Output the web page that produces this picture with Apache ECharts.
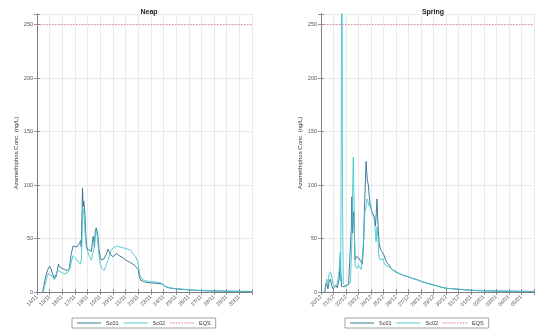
<!DOCTYPE html>
<html>
<head>
<meta charset="utf-8">
<script src="https://cdn.jsdelivr.net/npm/echarts@6/dist/echarts.min.js"></script>
<style>
  html, body { margin: 0; padding: 0; background: #fff; }
  #chart { width: 536px; height: 333px; }
</style>
</head>
<body>
<div id="chart"></div>
<script>
// Time is in days from the first labelled date of each panel.
const neapTicks = ['14/11','15/11','16/11','17/11','18/11','19/11','20/11','21/11','22/11','23/11','24/11','25/11','26/11','27/11','28/11','29/11','30/11'];
const springTicks = ['20/12','21/12','22/12','23/12','24/12','25/12','26/12','27/12','28/12','29/12','30/12','31/12','01/01','02/01','03/01','04/01','05/01'];

const eqsLevel = 250;

// Neap, scenario Sc01
const neapSc01T = [0.45,0.55,0.7,0.85,1.0,1.1,1.2,1.3,1.4,1.45,1.5,1.6,1.7,1.75,1.85,2.0,2.2,2.4,2.55,2.7,2.85,3.0,3.15,3.3,3.38,3.45,3.5,3.55,3.6,3.65,3.7,3.75,3.8,3.85,3.92,4.0,4.15,4.3,4.4,4.45,4.55,4.6,4.68,4.75,4.8,4.9,5.0,5.1,5.3,5.5,5.6,5.7,5.8,6.0,6.3,6.5,6.8,7.0,7.3,7.6,7.8,8.0,8.1,8.2,8.4,8.6,9.0,9.5,9.9,10.1,10.4,10.8,11.2,11.6,12.0,12.5,13.0,13.5,14.0,15.0,16.0,17.0];
const neapSc01V = [0,6,15,21,24,22,18,15,12,16,14,20,26,24,23,22,21,20,22,35,43,44,42,41,46,48,42,70,97,80,85,86,72,55,43,40,39,38,49,52,42,56,60,59,55,40,32,30,31,36,40,38,35,33,36,34,32,30,28,26,24,21,14,11,10,9,8.5,8,7.5,5.5,4,3.2,2.8,2.4,2.0,1.6,1.3,1.1,0.9,0.7,0.6,0.5];

// Neap, scenario Sc02
const neapSc02T = [0.5,0.6,0.75,0.9,1.05,1.2,1.35,1.45,1.55,1.65,1.8,2.0,2.2,2.4,2.6,2.75,2.85,3.0,3.2,3.45,3.52,3.58,3.63,3.68,3.75,3.8,3.9,4.0,4.15,4.3,4.4,4.5,4.6,4.7,4.78,4.9,5.0,5.13,5.3,5.5,5.7,5.85,6.0,6.3,6.6,6.9,7.2,7.4,7.6,7.8,7.95,8.05,8.15,8.3,8.5,8.8,9.2,9.6,9.9,10.1,10.4,10.8,11.2,11.6,12.0,12.5,13.0,13.5,14.0,15.0,16.0,17.0];
const neapSc02V = [0,5,12,17,18,15,12,14,17,20,19,18,17,18,22,30,34,32,29,26,32,60,78,74,68,55,42,38,33,30,36,40,52,58,50,35,26,22,20,26,33,39,41,43,42,41,40,39,36,33,29,22,15,12,11,10,9.5,9,8,5.5,4.2,3.4,2.9,2.5,2.1,1.7,1.4,1.2,1.0,0.8,0.6,0.5];

// Spring, scenario Sc01
const springSc01T = [0.3,0.35,0.45,0.55,0.65,0.75,0.85,0.95,1.05,1.2,1.3,1.45,1.53,1.58,1.65,1.75,1.9,2.05,2.2,2.35,2.42,2.47,2.52,2.57,2.62,2.68,2.72,2.8,2.9,3.0,3.1,3.2,3.3,3.38,3.45,3.52,3.6,3.65,3.7,3.78,3.85,3.95,4.05,4.15,4.25,4.35,4.42,4.47,4.52,4.57,4.65,4.75,4.85,4.95,5.05,5.15,5.3,5.45,5.6,5.8,6.0,6.3,6.6,6.9,7.2,7.5,7.8,8.1,8.4,8.7,9.0,9.3,9.6,10.0,10.5,11.0,11.5,12.0,12.5,13.0,14.0,15.0,16.0,17.0];
const springSc01V = [0,4,8,3,10,12,6,3,3,6,4,12,30,18,5,4,5,6,7,8,60,89,55,72,75,50,30,33,34,32,30,28,26,40,70,95,122,112,105,100,90,80,76,73,70,62,75,87,70,60,45,40,38,39,34,30,27,25,22,20,18.5,17,15.5,14.5,13,12,11,9.5,8.5,7.5,6.5,5.5,4.5,3.5,3,2.5,2,1.6,1.3,1.1,0.9,0.7,0.6,0.5];

// Spring, scenario Sc02
const springSc02T = [0.3,0.35,0.45,0.55,0.65,0.75,0.85,0.95,1.05,1.15,1.3,1.45,1.53,1.57,1.62,1.67,1.72,1.78,1.9,2.05,2.2,2.35,2.45,2.52,2.58,2.63,2.68,2.73,2.85,3.0,3.1,3.2,3.34,3.42,3.5,3.6,3.68,3.75,3.85,3.95,4.05,4.15,4.25,4.35,4.4,4.47,4.55,4.62,4.72,4.85,4.95,5.05,5.15,5.33,5.5,5.7,5.86,6.0,6.3,6.6,6.9,7.2,7.5,7.8,8.1,8.4,8.7,9.0,9.3,9.6,10.0,10.5,11.0,11.5,12.0,12.5,13.0,14.0,15.0,16.0,17.0];
const springSc02V = [0,6,12,8,17,19,15,8,5,4,8,20,37,10,150,420,80,8,6,7,7,9,40,90,126,90,45,25,22,25,24,21,20,50,75,80,87,85,80,82,75,72,68,55,47,61,50,33,30,30,31,27,25,24,23,21,20,18.5,17,15.5,14.5,13,12,11,9.5,8.5,7.5,6.5,5.5,4.5,3.6,3.1,2.6,2.1,1.7,1.4,1.2,1.0,0.8,0.6,0.5];

const colSc01 = '#2c6d8a';
const colSc02 = '#45c4d0';
const colEqs = '#e0707a';
const axisCol = '#7a7a7a';
const gridCol = '#e4e4e4';
const fontFam = '"Liberation Sans", Arial, sans-serif';

// Legend keys: a thin solid bar and a dotted bar
const solidKey = 'path://M0,0H26V1H0Z';
const dottedKey = 'path://' + Array.from({ length: 9 }, (_, i) => `M${i * 3},0h1.5v1h-1.5Z`).join('');

function pairs(t, v) { return t.map((x, i) => [x, v[i]]); }

function xAxes(gridIndex, labels) {
  const bottom = {
    type: 'value', gridIndex, position: 'bottom', min: 0, max: 17, interval: 1,
    axisLine: { show: true, lineStyle: { color: axisCol, width: 0.8 } },
    axisTick: { show: true, inside: true, length: 3, lineStyle: { color: axisCol, width: 0.8 } },
    splitLine: { show: true, lineStyle: { color: gridCol, width: 0.8 } },
    axisLabel: {
      rotate: 45, fontSize: 5.5, color: '#555', fontFamily: fontFam, margin: 4,
      formatter: v => (labels[v] !== undefined ? labels[v] : '')
    }
  };
  const top = {
    type: 'value', gridIndex, position: 'top', min: 0, max: 17, interval: 1,
    axisLine: { show: true, lineStyle: { color: axisCol, width: 0.8 } },
    axisTick: { show: true, inside: true, length: 3, lineStyle: { color: axisCol, width: 0.8 } },
    splitLine: { show: false }, axisLabel: { show: false }
  };
  return [bottom, top];
}

function yAxes(gridIndex) {
  const left = {
    type: 'value', gridIndex, position: 'left', min: 0, max: 260, interval: 50,
    name: 'Azamethiphos Conc. (ng/L)', nameLocation: 'middle', nameGap: 18,
    nameTextStyle: { fontSize: 6, color: '#333', fontFamily: fontFam },
    axisLine: { show: true, lineStyle: { color: axisCol, width: 0.8 } },
    axisTick: { show: true, inside: true, length: 3, lineStyle: { color: axisCol, width: 0.8 } },
    splitLine: { show: true, lineStyle: { color: gridCol, width: 0.8 } },
    axisLabel: {
      fontSize: 5.5, color: '#555', fontFamily: fontFam, margin: 4,
      formatter: v => (v % 50 === 0 ? String(v) : '')
    }
  };
  const right = {
    type: 'value', gridIndex, position: 'right', min: 0, max: 260, interval: 50,
    axisLine: { show: true, lineStyle: { color: axisCol, width: 0.8 } },
    axisTick: { show: true, inside: true, length: 3, lineStyle: { color: axisCol, width: 0.8 } },
    splitLine: { show: false }, axisLabel: { show: false }
  };
  return [left, right];
}

function lineSeries(name, data, color, xi, yi, dashed) {
  return {
    name, type: 'line', data, xAxisIndex: xi, yAxisIndex: yi,
    symbol: 'none', smooth: false, animation: false, clip: true,
    lineStyle: { color, width: dashed ? 0.8 : 0.9, type: dashed ? [1.5, 1.5] : 'solid' },
    itemStyle: { color }
  };
}

function legendAt(left) {
  return {
    left, top: 318, orient: 'horizontal',
    data: [
      { name: 'Sc01', icon: solidKey },
      { name: 'Sc02', icon: solidKey },
      { name: 'EQS', icon: dottedKey }
    ],
    itemWidth: 24, itemHeight: 1, itemGap: 5,
    padding: [2, 5], borderColor: '#8a8a8a', borderWidth: 0.8,
    textStyle: { fontSize: 5.5, color: '#333', fontFamily: fontFam }
  };
}

const chart = echarts.init(document.getElementById('chart'), null, { renderer: 'canvas' });
const xa0 = xAxes(0, neapTicks), xa1 = xAxes(1, springTicks);
const ya0 = yAxes(0), ya1 = yAxes(1);

chart.setOption({
  animation: false,
  backgroundColor: '#ffffff',
  title: [
    { text: 'Neap', left: 144, top: 4, textAlign: 'center',
      textStyle: { fontSize: 7, fontWeight: 'bold', color: '#222', fontFamily: fontFam } },
    { text: 'Spring', left: 428, top: 4, textAlign: 'center',
      textStyle: { fontSize: 7, fontWeight: 'bold', color: '#222', fontFamily: fontFam } }
  ],
  legend: [legendAt(72), legendAt(345)],
  grid: [
    { left: 37, top: 14, width: 215, bottom: 41, show: false },
    { left: 321, top: 14, width: 214, bottom: 41, show: false }
  ],
  xAxis: [xa0[0], xa0[1], xa1[0], xa1[1]],
  yAxis: [ya0[0], ya0[1], ya1[0], ya1[1]],
  series: [
    lineSeries('Sc01', pairs(neapSc01T, neapSc01V), colSc01, 0, 0, false),
    lineSeries('Sc02', pairs(neapSc02T, neapSc02V), colSc02, 0, 0, false),
    lineSeries('EQS', [[0, eqsLevel], [17, eqsLevel]], colEqs, 0, 0, true),
    lineSeries('Sc01', pairs(springSc01T, springSc01V), colSc01, 2, 2, false),
    lineSeries('Sc02', pairs(springSc02T, springSc02V), colSc02, 2, 2, false),
    lineSeries('EQS', [[0, eqsLevel], [17, eqsLevel]], colEqs, 2, 2, true)
  ]
});
</script>
</body>
</html>
